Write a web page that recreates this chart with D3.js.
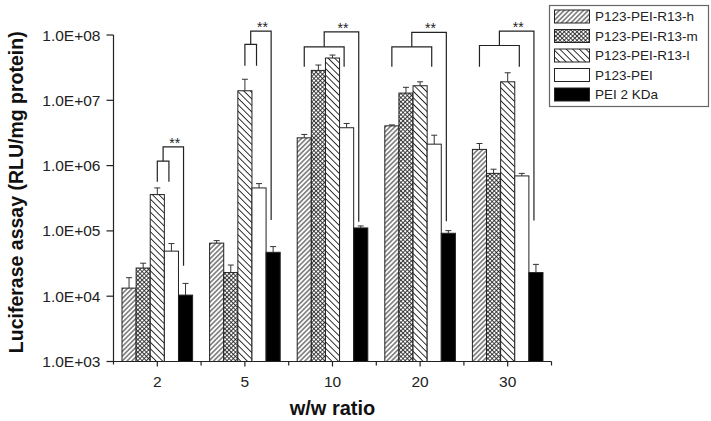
<!DOCTYPE html>
<html><head><meta charset="utf-8">
<script src="https://cdn.jsdelivr.net/npm/d3@7"></script>
<style>body{margin:0;background:#fff}svg{display:block;font-family:Arial,"Liberation Sans",sans-serif}</style>
</head><body><svg id="c" width="711" height="421"></svg>
<script>
const categories = ["2","5","10","20","30"];
const seriesNames = ["P123-PEI-R13-h","P123-PEI-R13-m","P123-PEI-R13-l","P123-PEI","PEI 2 KDa"];
const hVals = [1.33e4, 6.5e4, 2.66e6, 4.06e6, 1.77e6];
const hErr  = [0.59e4, 0.6e4, 0.34e6, 0.14e6, 0.41e6];
const mVals = [2.7e4, 2.3e4, 2.87e7, 1.29e7, 7.6e5];
const mErr  = [0.5e4, 0.7e4, 0.6e7, 0.29e7, 1.2e5];
const lVals = [3.6e5, 1.4e7, 4.44e7, 1.67e7, 1.92e7];
const lErr  = [0.95e5, 0.7e7, 0.49e7, 0.25e7, 0.72e7];
const pVals = [4.9e4, 4.55e5, 3.8e6, 2.13e6, 6.95e5];
const pErr  = [1.5e4, 0.75e5, 0.62e6, 0.79e6, 0.65e5];
const kVals = [1.04e4, 4.7e4, 1.11e5, 9.2e4, 2.3e4];
const kErr  = [0.53e4, 1.05e4, 0.08e5, 0.9e4, 0.77e4];
const yTicks = [1e3, 1e4, 1e5, 1e6, 1e7, 1e8];
const yTickLabels = ["1.0E+03","1.0E+04","1.0E+05","1.0E+06","1.0E+07","1.0E+08"];
// significance brackets (series indices and levels in RLU/mg)
const innerFrom   = [2, 2, 0, 0, 0];
const innerTo     = [3, 3, 3, 3, 3];
const outerTo     = [4, 4, 4, 4, 4];
const innerTop    = [1.17e6, 7.2e7, 6.6e7, 6.6e7, 6.9e7];
const innerLegEnd = [5.66e5, 3.39e7, 3.27e7, 3.27e7, 3.27e7];
const outerTop    = [1.93e6, 1.15e8, 1.12e8, 1.10e8, 1.15e8];
const outerLegEnd = [2.93e4, 1.47e5, 1.38e5, 1.40e5, 1.44e5];
const sigLabels   = ["**","**","**","**","**"];

const values = [hVals, mVals, lVals, pVals, kVals];
const errors = [hErr, mErr, lErr, pErr, kErr];

const svg = d3.select("#c");
const L = 113.5, R = 551.5, T = 35, B = 361.5;
const x0 = d3.scaleBand().domain(categories).range([L, R]).padding(0);
const bw = x0.bandwidth();
const x1 = d3.scaleBand().domain(d3.range(seriesNames.length)).range([8.5, bw - 8.5]).padding(0);
const y = d3.scaleLog().domain([1e3, 1e8]).range([B, T]);

// patterns
const defs = svg.append("defs");
function linePattern(id, spacing, angle, cross, sw) {
  const p = defs.append("pattern").attr("id", id).attr("patternUnits", "userSpaceOnUse")
    .attr("width", spacing).attr("height", spacing).attr("patternTransform", `rotate(${angle})`);
  p.append("rect").attr("width", spacing).attr("height", spacing).attr("fill", "#fff");
  p.append("line").attr("x1", spacing/2).attr("x2", spacing/2).attr("y1", 0).attr("y2", spacing)
    .attr("stroke", "#222").attr("stroke-width", sw);
  if (cross) p.append("line").attr("y1", spacing/2).attr("y2", spacing/2).attr("x1", 0).attr("x2", spacing)
    .attr("stroke", "#222").attr("stroke-width", sw);
}
linePattern("pH", 3.4, 45, false, 0.95);
linePattern("pM", 3.0, 45, true, 0.85);
linePattern("pL", 4.6, -45, false, 0.95);
const fills = ["url(#pH)", "url(#pM)", "url(#pL)", "#fff", "#000"];

// bars
const g = svg.append("g");
categories.forEach((c, ci) => {
  values.forEach((vals, si) => {
    const xb = x0(c) + x1(si);
    const v = vals[ci];
    g.append("rect").attr("x", xb).attr("y", y(v)).attr("width", x1.bandwidth()).attr("height", B - y(v))
      .attr("fill", fills[si]).attr("stroke", "#222").attr("stroke-width", 1);
    const cx = xb + x1.bandwidth()/2;
    const top = y(v + errors[si][ci]);
    g.append("line").attr("x1", cx).attr("x2", cx).attr("y1", y(v)).attr("y2", top).attr("stroke", "#333").attr("stroke-width", 1);
    g.append("line").attr("x1", cx - 3).attr("x2", cx + 3).attr("y1", top).attr("y2", top).attr("stroke", "#333").attr("stroke-width", 1);
  });
});

// brackets
const bk = svg.append("g").attr("fill", "none").attr("stroke", "#222").attr("stroke-width", 1.2);
categories.forEach((c, ci) => {
  const cxs = i => x0(c) + x1(i) + x1.bandwidth()/2;
  const a = cxs(innerFrom[ci]), b = cxs(innerTo[ci]) - 2.5;
  const yi = y(innerTop[ci]), yil = y(innerLegEnd[ci]);
  bk.append("path").attr("d", `M${a},${yil}V${yi}H${b}V${yil}`);
  const m = (a + b)/2, e = cxs(outerTo[ci]) - 2;
  const yo = y(outerTop[ci]), yol = y(outerLegEnd[ci]);
  bk.append("path").attr("d", `M${m},${yi}V${yo}H${e}V${yol}`);
  svg.append("text").attr("x", (m + e)/2 + 1.5).attr("y", yo + 1).attr("text-anchor", "middle")
    .attr("font-size", 14).attr("fill", "#222").text(sigLabels[ci]);
});

// axes
const ax = svg.append("g").attr("stroke", "#222").attr("stroke-width", 1.2);
ax.append("line").attr("x1", L).attr("x2", L).attr("y1", T).attr("y2", B + 3);
ax.append("line").attr("x1", L).attr("x2", R).attr("y1", B).attr("y2", B);
yTicks.forEach((t, i) => {
  ax.append("line").attr("x1", L - 7).attr("x2", L).attr("y1", y(t)).attr("y2", y(t));
  svg.append("text").attr("x", L - 13).attr("y", y(t)).attr("dy", "0.36em").attr("text-anchor", "end")
    .attr("font-size", 15.5).attr("fill", "#222").text(yTickLabels[i]);
});
categories.forEach(c => {
  const cx = x0(c) + bw/2;
  ax.append("line").attr("x1", cx).attr("x2", cx).attr("y1", B).attr("y2", B + 5);
  ax.append("line").attr("x1", x0(c) + bw).attr("x2", x0(c) + bw).attr("y1", B).attr("y2", B + 4);
  svg.append("text").attr("x", cx).attr("y", B + 25).attr("text-anchor", "middle")
    .attr("font-size", 15.5).attr("fill", "#222").text(c);
});
svg.append("text").attr("x", (L + R)/2).attr("y", 415).attr("text-anchor", "middle")
  .attr("font-size", 20).attr("font-weight", "bold").attr("fill", "#111").text("w/w ratio");
svg.append("text").attr("transform", `translate(16,${(T + B)/2 - 6}) rotate(-90)`).attr("text-anchor", "middle")
  .attr("dy", "0.35em").attr("font-size", 19.5).attr("font-weight", "bold").attr("fill", "#111")
  .text("Luciferase assay (RLU/mg protein)");

// legend
const lg = svg.append("g");
lg.append("rect").attr("x", 549.5).attr("y", 5.5).attr("width", 159).attr("height", 101)
  .attr("fill", "#fff").attr("stroke", "#666").attr("stroke-width", 1.2);
seriesNames.forEach((n, i) => {
  const yy = 10 + i * 19.5;
  lg.append("rect").attr("x", 554.5).attr("y", yy).attr("width", 35).attr("height", 13)
    .attr("fill", fills[i]).attr("stroke", "#222").attr("stroke-width", 1);
  lg.append("text").attr("x", 595).attr("y", yy + 6.5).attr("dy", "0.36em").attr("font-size", 13.5)
    .attr("fill", "#222").text(n);
});
</script></body></html>
